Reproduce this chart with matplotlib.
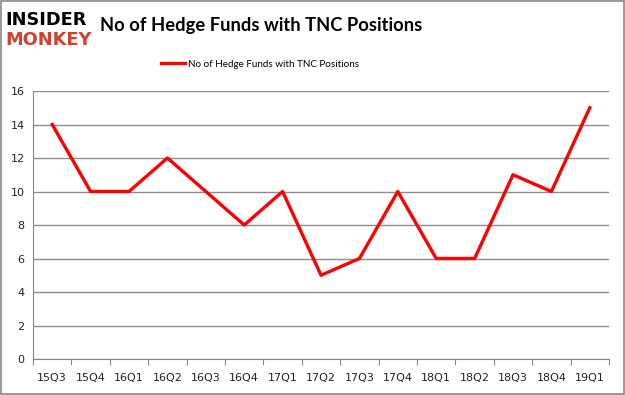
import matplotlib.pyplot as plt
import numpy as np

# --- Data ---
QUARTERS = ['15Q3', '15Q4', '16Q1', '16Q2', '16Q3', '16Q4', '17Q1', '17Q2',
            '17Q3', '17Q4', '18Q1', '18Q2', '18Q3', '18Q4', '19Q1']
HEDGE_FUNDS = [14, 10, 10, 12, 10, 8, 10, 5, 6, 10, 6, 6, 11, 10, 15]
SERIES_NAME = 'No of Hedge Funds with TNC Positions'
TITLE = 'No of Hedge Funds with TNC Positions'
Y_TICKS = [0, 2, 4, 6, 8, 10, 12, 14, 16]

LINE_RED = '#ff0000'
LOGO_RED = '#d2402e'


def main():
    fig = plt.figure(figsize=(6.25, 3.95), dpi=100)
    fig.patch.set_facecolor('white')

    # outer border like the Excel chart frame
    border = plt.Rectangle((0.0015, 0.002), 0.997, 0.995, transform=fig.transFigure,
                           fill=False, edgecolor='#888888', linewidth=1.2)
    fig.patches.append(border)

    ax = fig.add_axes([0.0528, 0.0911, 0.9216, 0.6785])

    x = np.arange(len(QUARTERS))
    ax.plot(x, HEDGE_FUNDS, color=LINE_RED, linewidth=2.4, label=SERIES_NAME,
            solid_joinstyle='round')

    ax.set_xlim(-0.5, len(QUARTERS) - 0.5)
    ax.set_ylim(0, 16)
    ax.set_yticks(Y_TICKS)
    ax.set_yticklabels([str(v) for v in Y_TICKS], fontsize=8, color='#222222')

    # categories sit between tick marks
    ax.set_xticks(np.arange(len(QUARTERS) + 1) - 0.5)
    ax.set_xticklabels([])
    ax.set_xticks(x, minor=True)
    ax.set_xticklabels(QUARTERS, minor=True, fontsize=8, color='#222222')
    ax.tick_params(axis='x', which='major', length=4, color='#888888', direction='out')
    ax.tick_params(axis='x', which='minor', length=0, pad=10)
    ax.tick_params(axis='y', length=0, pad=6)

    ax.grid(axis='y', color='#8c8c8c', linewidth=1.0)
    ax.set_axisbelow(True)
    for side in ['top', 'right']:
        ax.spines[side].set_visible(False)
    ax.spines['left'].set_color('#888888')
    ax.spines['bottom'].set_color('#888888')

    fig.text(0.418, 0.935, TITLE, ha='center', va='center', fontsize=13.2,
             fontweight='bold', family='Lato', color='black')

    ax.legend(loc='center', bbox_to_anchor=(0.394, 1.10), frameon=False,
              prop={'family': 'Lato', 'size': 7.1}, handlelength=2.4,
              handletextpad=0.3)

    # logo
    fig.text(0.008, 0.95, 'INSIDER', ha='left', va='center', fontsize=12.8,
             fontweight='heavy', family='DejaVu Sans', color='black')
    fig.text(0.008, 0.898, 'MONKEY', ha='left', va='center', fontsize=12.8,
             fontweight='heavy', family='DejaVu Sans', color=LOGO_RED)

    fig.savefig('out.png', dpi=100)
    plt.close(fig)


if __name__ == '__main__':
    main()
